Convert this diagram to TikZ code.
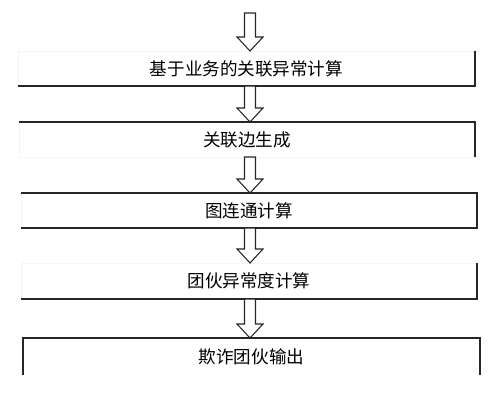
\documentclass[tikz,border=0pt]{standalone}
\usepackage{fontspec}
\newfontfamily\cjk{Noto Sans CJK SC}
\usetikzlibrary{calc}

% hollow block arrow from a tail point down to a tip point
\newcommand{\hollowarrow}[2]{%
  \draw [hollow] ($(#1)+(-5.5,0)$) -- ($(#2)+(-5.5,-14)$) -- ($(#2)+(-13,-14)$) -- (#2)
    -- ($(#2)+(13,-14)$) -- ($(#2)+(5.5,-14)$) -- ($(#1)+(5.5,0)$) -- cycle;}

\begin{document}
\begin{tikzpicture}[x=0.02cm, y=-0.02cm,
    every node/.style={font=\cjk\fontsize{10pt}{12pt}\selectfont},
    box/.style={inner sep=0pt, outer sep=0pt},
    edge/.style={line width=0.8pt, black!85},
    faint/.style={line width=0.4pt, black!4},
    hollow/.style={line width=0.6pt, black!85, fill=white, line join=miter}]

  \useasboundingbox (0,0) rectangle (500,400);

  % The steps, top to bottom
  \node [box, minimum width=9.14cm, minimum height=0.70cm] (b1) at (246.5,68.5) {基于业务的关联异常计算};
  \node [box, minimum width=9.12cm, minimum height=0.70cm] (b2) at (247,139.5) {关联边生成};
  \node [box, minimum width=9.12cm, minimum height=0.70cm] (b3) at (249,210.5) {图连通计算};
  \node [box, minimum width=9.12cm, minimum height=0.72cm] (b4) at (249,281) {团伙异常度计算};
  \node [box, minimum width=9.14cm, minimum height=0.74cm] (b5) at (251.5,356.5) {欺诈团伙输出};

  % Column of the arrows and the free tail of the first one
  \coordinate (col) at (250,0);
  \coordinate (start) at (250,13);

  % Box edges, only partly printed
  \draw [faint] (b1.south west) -- (b1.north west) -- (b1.north east);
  \draw [edge] (b1.north east) -- (b1.south east) -- (b1.south west);
  \draw [faint] (b2.north west) -- (b2.south west) -- (b2.south east);
  \draw [edge] (b2.north west) -- (b2.north east) -- (b2.south east);
  \draw [faint] (b3.north west) -- (b3.south west);
  \draw [edge] (b3.north west) -- (b3.north east) -- (b3.south east) -- (b3.south west);
  \draw [faint] (b4.south west) -- (b4.north west) -- (b4.north east);
  \draw [edge] (b4.north east) -- (b4.south east) -- (b4.south west);
  \draw [edge] (b5.south west) -- (b5.north west) -- (b5.north east) -- (b5.south east);

  % Hollow arrows between the steps
  \foreach \a/\b in {start/b1, b1.south/b2, b2.south/b3, b3.south/b4, b4.south/b5} {
    \hollowarrow{\a -| col}{\b.north -| col}
  }
\end{tikzpicture}
\end{document}
